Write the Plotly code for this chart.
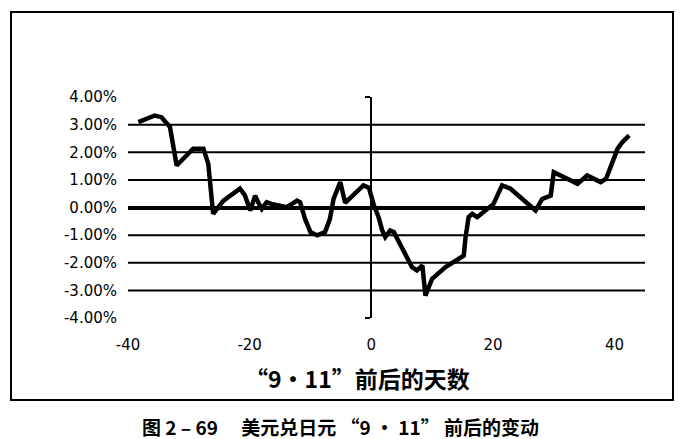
import plotly.graph_objects as go

# %% Data (days around 9/11, USD/JPY change in %)
DAYS = [
    -38.3, -35.6, -34.5, -33.1, -32.0, -29.3, -27.6, -26.8, -26.0, -24.3,
    -21.6, -20.8, -19.9, -19.1, -18.6, -18.0, -17.2, -16.4, -13.9, -12.2,
    -11.7, -10.9, -10.0, -8.9, -7.6, -6.8, -6.2, -5.1, -4.3, -2.6,
    -1.3, -0.4, 0.4, 1.2, 1.8, 2.3, 3.1, 3.7, 6.7, 7.5,
    8.4, 8.9, 10.0, 12.2, 15.2, 15.5, 16.0, 16.6, 17.4, 20.1,
    21.5, 22.9, 27.0, 28.1, 29.5, 30.0, 31.1, 33.9, 35.5, 37.7,
    38.6, 40.5, 41.3, 42.4,
]
CHANGE_PCT = [
    3.09, 3.33, 3.27, 2.91, 1.52, 2.13, 2.13, 1.58, -0.23, 0.25,
    0.68, 0.45, -0.11, 0.43, 0.19, -0.05, 0.19, 0.13, 0.01, 0.25,
    0.19, -0.41, -0.89, -1.01, -0.89, -0.41, 0.31, 0.92, 0.17, 0.55,
    0.80, 0.72, 0.10, -0.35, -0.83, -1.07, -0.83, -0.89, -2.16, -2.28,
    -2.10, -3.19, -2.58, -2.16, -1.74, -1.07, -0.35, -0.23, -0.35, 0.13,
    0.80, 0.68, -0.11, 0.31, 0.43, 1.28, 1.16, 0.86, 1.16, 0.92,
    1.04, 2.13, 2.37, 2.61,
]
X_TICKS = [-40, -20, 0, 20, 40]
Y_TICKS = [-4, -3, -2, -1, 0, 1, 2, 3, 4]
X_RANGE = [-40, 45]
Y_RANGE = [-4, 4]

X_TITLE = "“9·11”前后的天数"
CAPTION = "图 2 – 69　 美元兑日元 “9 · 11” 前后的变动"

# %% Layout geometry (page pixels; body margin is removed in the html)
W, H = 695, 439
PLOT_X0, PLOT_X1, PLOT_Y0, PLOT_Y1 = 128, 645, 97, 318
L, T = PLOT_X0, PLOT_Y0
R, B = W - PLOT_X1, H - PLOT_Y1
PW, PH = PLOT_X1 - PLOT_X0, PLOT_Y1 - PLOT_Y0


def px_x(px):
    return (px - PLOT_X0) / PW


def px_y(py):
    return (PLOT_Y1 - py) / PH


LABEL_FONT = dict(family="DejaVu Sans", size=15, color="black")
CJK = "Noto Sans CJK SC"

fig = go.Figure()
fig.add_trace(go.Scatter(
    x=DAYS, y=CHANGE_PCT, mode="lines",
    line=dict(color="black", width=4.5),
    showlegend=False, hoverinfo="skip",
))
# empty trace so the value axis through day 0 is drawn
fig.add_trace(go.Scatter(x=[], y=[], yaxis="y2", showlegend=False))

# horizontal gridlines (zero line handled by the axis)
for v in Y_TICKS:
    if v == 0 or v in (Y_RANGE[0], Y_RANGE[1]):
        continue
    fig.add_shape(type="line", xref="paper", yref="y", x0=0, x1=1, y0=v, y1=v,
                  line=dict(color="black", width=2), layer="below")

# outer frame of the scanned chart
fig.add_shape(type="rect", xref="paper", yref="paper",
              x0=px_x(11), x1=px_x(673), y0=px_y(400), y1=px_y(12),
              line=dict(color="black", width=2))

fig.add_annotation(text=X_TITLE, xref="paper", yref="paper",
                   x=px_x(357), y=px_y(378), xanchor="center", yanchor="middle",
                   showarrow=False,
                   font=dict(family=CJK, size=23, color="black", weight="bold"))
fig.add_annotation(text=CAPTION, xref="paper", yref="paper",
                   x=px_x(340), y=px_y(426), xanchor="center", yanchor="middle",
                   showarrow=False,
                   font=dict(family=CJK, size=19, color="black", weight="bold"))

fig.update_layout(
    width=W, height=H,
    margin=dict(l=L, r=R, t=T, b=B, pad=0),
    paper_bgcolor="white", plot_bgcolor="white",
    font=LABEL_FONT,
    xaxis=dict(
        range=X_RANGE, tickvals=X_TICKS, ticktext=[str(v) for v in X_TICKS],
        showgrid=False, zeroline=False, showline=False, ticks="",
        ticklabelstandoff=16, tickfont=LABEL_FONT,
    ),
    yaxis=dict(
        range=Y_RANGE, tickvals=Y_TICKS, ticktext=[f"{v:.2f}%" for v in Y_TICKS],
        showgrid=False, zeroline=True, zerolinecolor="black", zerolinewidth=4,
        showline=False, ticks="", ticklabelstandoff=10, tickfont=LABEL_FONT,
    ),
    yaxis2=dict(
        range=Y_RANGE, overlaying="y", anchor="free",
        position=(0 - X_RANGE[0]) / (X_RANGE[1] - X_RANGE[0]),
        tickvals=[Y_RANGE[0], Y_RANGE[1]], showticklabels=False,
        ticks="outside", ticklen=5, tickwidth=2, tickcolor="black",
        showline=True, linecolor="black", linewidth=2,
        showgrid=False, zeroline=False,
    ),
)

fig.write_html(
    "out.html",
    config={"displayModeBar": False},
    post_script="document.body.style.margin = '0';",
)
